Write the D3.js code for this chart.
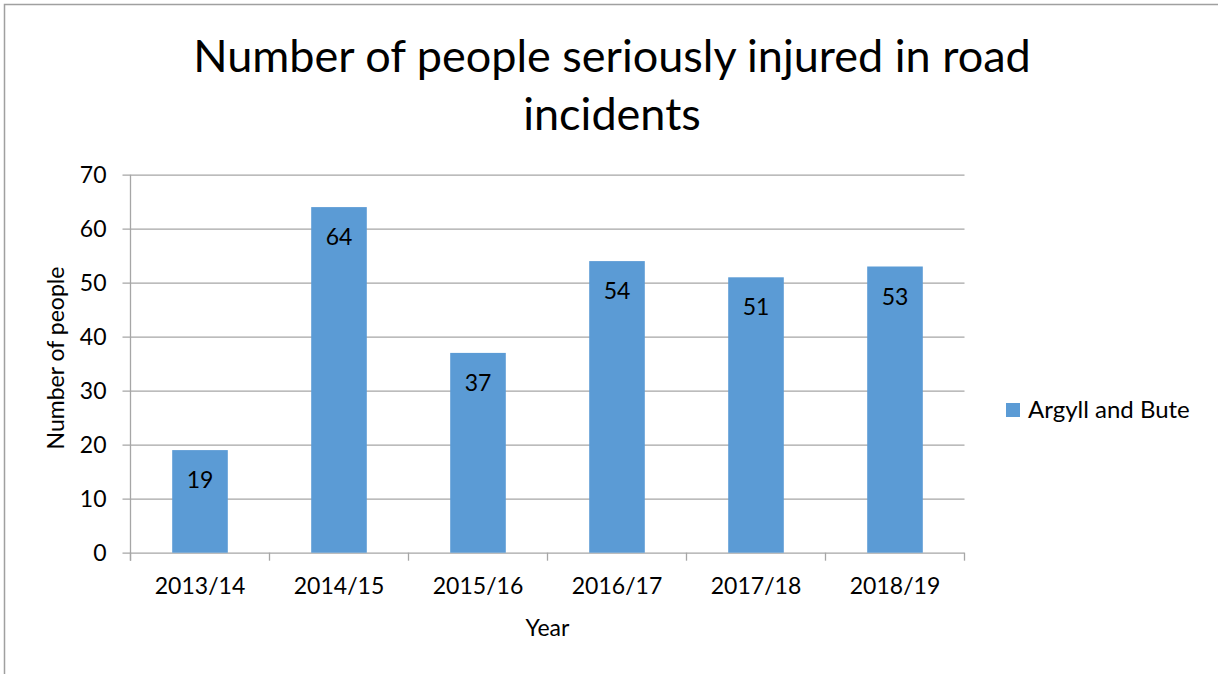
<!DOCTYPE html>
<html>
<head>
<meta charset="utf-8">
<script src="https://cdn.jsdelivr.net/npm/d3@7"></script>
<style>
  body { margin: 0; background: #fff; }
  svg text { font-family: Lato, "Open Sans", sans-serif; fill: #000; }
</style>
</head>
<body>
<svg id="chart" width="1218" height="674"></svg>
<script>
// Chart data
var years = ["2013/14", "2014/15", "2015/16", "2016/17", "2017/18", "2018/19"];
var injured = [19, 64, 37, 54, 51, 53];
var yTicks = [0, 10, 20, 30, 40, 50, 60, 70];
var seriesName = "Argyll and Bute";

var svg = d3.select("#chart");
var barColor = "#5B9BD5";
var gridColor = "#A6A6A6";
var labelSize = "23px";

// outer chart border (runs off the right and bottom edges)
svg.append("rect")
  .attr("x", 4.5).attr("y", 4.5)
  .attr("width", 1300).attr("height", 800)
  .attr("fill", "none")
  .attr("stroke", "#A0A0A0")
  .attr("stroke-width", 1.5);

var plot = { left: 130.5, right: 964.5, top: 174.7, bottom: 552.7 };

var x = d3.scaleBand()
  .domain(years)
  .range([plot.left, plot.right])
  .paddingInner(0.6)
  .paddingOuter(0.3);

var y = d3.scaleLinear()
  .domain([0, 70])
  .range([plot.bottom, plot.top]);

// gridlines + y tick labels
var yAxis = d3.axisLeft(y)
  .tickValues(yTicks)
  .tickSize(plot.right - plot.left + 8);

var yg = svg.append("g")
  .attr("transform", "translate(" + plot.right + ",0)")
  .call(yAxis);
yg.select(".domain").remove();
yg.selectAll(".tick line").attr("stroke", gridColor).attr("stroke-width", 1.3);
yg.selectAll(".tick text")
  .attr("x", -(plot.right - plot.left) - 24)
  .attr("dy", "0.36em")
  .style("font-size", labelSize)
  .attr("text-anchor", "end");

// vertical axis line
svg.append("line")
  .attr("x1", plot.left).attr("x2", plot.left)
  .attr("y1", plot.top).attr("y2", plot.bottom + 8)
  .attr("stroke", gridColor).attr("stroke-width", 1.3);

// x axis ticks between categories
var boundaries = d3.range(years.length + 1).map(function(i) {
  return plot.left + i * (plot.right - plot.left) / years.length;
});
svg.selectAll(".xtick")
  .data(boundaries)
  .enter().append("line")
  .attr("x1", function(d) { return d; })
  .attr("x2", function(d) { return d; })
  .attr("y1", plot.bottom)
  .attr("y2", plot.bottom + 8)
  .attr("stroke", gridColor).attr("stroke-width", 1.3);

// bars
svg.selectAll(".bar")
  .data(injured)
  .enter().append("rect")
  .attr("class", "bar")
  .attr("x", function(d, i) { return x(years[i]); })
  .attr("y", function(d) { return y(d); })
  .attr("width", x.bandwidth())
  .attr("height", function(d) { return y(0) - y(d); })
  .attr("fill", barColor);

// bar labels
svg.selectAll(".bar-label")
  .data(injured)
  .enter().append("text")
  .attr("class", "bar-label")
  .attr("x", function(d, i) { return x(years[i]) + x.bandwidth() / 2; })
  .attr("y", function(d) { return y(d) + 38; })
  .attr("text-anchor", "middle")
  .style("font-size", labelSize)
  .text(function(d) { return d; });

// category labels
svg.selectAll(".cat-label")
  .data(years)
  .enter().append("text")
  .attr("x", function(d) { return x(d) + x.bandwidth() / 2; })
  .attr("y", 594)
  .attr("text-anchor", "middle")
  .style("font-size", labelSize)
  .text(function(d) { return d; });

// title
var title = svg.append("text")
  .attr("text-anchor", "middle")
  .style("font-size", "45px");
title.append("tspan").attr("x", 612).attr("y", 72).text("Number of people seriously injured in road");
title.append("tspan").attr("x", 612).attr("y", 130).text("incidents");

// axis titles
svg.append("text")
  .attr("transform", "translate(64,358) rotate(-90)")
  .attr("text-anchor", "middle")
  .style("font-size", labelSize)
  .text("Number of people");

svg.append("text")
  .attr("x", (plot.left + plot.right) / 2)
  .attr("y", 636)
  .attr("text-anchor", "middle")
  .style("font-size", labelSize)
  .text("Year");

// legend
svg.append("rect")
  .attr("x", 1006).attr("y", 403)
  .attr("width", 14).attr("height", 14)
  .attr("fill", barColor);
svg.append("text")
  .attr("x", 1028).attr("y", 418)
  .style("font-size", "24px")
  .text(seriesName);
</script>
</body>
</html>
